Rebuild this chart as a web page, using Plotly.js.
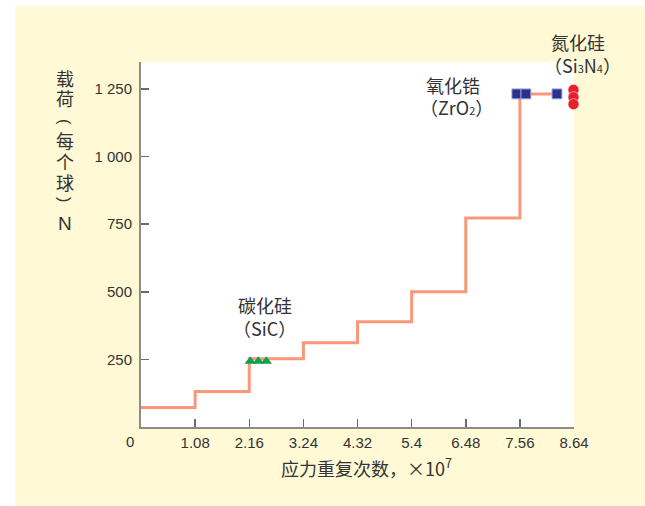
<!DOCTYPE html>
<html>
<head>
<meta charset="utf-8">
<script src="https://cdn.plot.ly/plotly-3.0.1.min.js"></script>
<style>html,body{margin:0;padding:0;background:#fff;}#chart{width:645px;height:506px;}</style>
</head>
<body>
<div id="chart"></div>
<script>
// ---- data ----
var stepCycles = [0, 1.08, 2.16, 3.24, 4.32, 5.4, 6.48, 7.56, 8.3];
var stepLoad   = [72, 131, 252, 312, 389, 500, 773, 1232, 1232];

var sicCycles = [2.18, 2.34, 2.50];
var sicLoad   = [243, 243, 243];

var zro2Cycles = [7.5, 7.68, 8.3];
var zro2Load   = [1232, 1232, 1232];

var si3n4Cycles = [8.63, 8.63, 8.63];
var si3n4Load   = [1247, 1220, 1194];

var xTickVals = [1.08, 2.16, 3.24, 4.32, 5.4, 6.48, 7.56, 8.64];
var xTickText = ['1.08', '2.16', '3.24', '4.32', '5.4', '6.48', '7.56', '8.64'];
var yTickVals = [250, 500, 750, 1000, 1250];
var yTickText = ['250', '500', '750', '1 000', '1 250'];

var yTitleChars = ['载', '荷', '(', '每', '个', '球', ')', 'N'];
var xTitle = '应力重复次数，×10<sup>7</sup>';

// ---- layout helpers ----
var W = 645, H = 506, L = 141, R = 574, T = 62, B = 427;
function px(xp) { return (xp - L) / (R - L); }
function py(yp) { return (B - yp) / (B - T); }

var cjk = '"Noto Sans CJK SC", "Noto Sans", sans-serif';
var latin = '"Liberation Sans", Arial, sans-serif';
var textColor = '#333333';
var yellow = '#FFF9D6';

var traces = [
  {x: stepCycles, y: stepLoad, mode: 'lines', line: {shape: 'hv', color: '#F7987A', width: 3},
   hoverinfo: 'skip', cliponaxis: false},
  {x: zro2Cycles, y: zro2Load, mode: 'markers', cliponaxis: false,
   marker: {symbol: 'square', size: 10, color: '#2B2F8F', line: {color: '#A9B2E0', width: 1}}},
  {x: si3n4Cycles, y: si3n4Load, mode: 'markers', cliponaxis: false,
   marker: {symbol: 'circle', size: 11, color: '#E8202A', line: {color: '#ffffff', width: 0.5}}},
  {x: sicCycles, y: sicLoad, mode: 'markers', cliponaxis: false,
   marker: {symbol: 'triangle-up', size: 10, color: '#12A050', line: {width: 0}}}
];

var yTitleY = [78, 98, 122, 140, 161, 182, 199, 223];
var annotations = [];
yTitleChars.forEach(function (c, i) {
  var isParen = (c === '(' || c === ')');
  var isLatin = isParen || c === 'N';
  annotations.push({
    xref: 'paper', yref: 'paper', x: px(65), y: py(yTitleY[i]),
    text: c, showarrow: false, xanchor: 'center', yanchor: 'middle',
    textangle: isParen ? 90 : 0,
    font: {family: isLatin ? latin : cjk, size: isParen ? 16 : (c === 'N' ? 19 : 18), color: textColor}
  });
});
annotations.push(
  {xref: 'paper', yref: 'paper', x: px(130), y: py(441), text: '0', showarrow: false,
   xanchor: 'center', yanchor: 'middle', font: {family: latin, size: 15, color: textColor}},
  {xref: 'paper', yref: 'paper', x: px(366), y: py(467), text: xTitle, showarrow: false,
   xanchor: 'center', yanchor: 'middle', font: {family: cjk, size: 18, color: textColor}},
  {xref: 'paper', yref: 'paper', x: px(265), y: py(305), text: '碳化硅', showarrow: false,
   xanchor: 'center', yanchor: 'middle', font: {family: cjk, size: 18, color: textColor}},
  {xref: 'paper', yref: 'paper', x: px(264), y: py(328), text: '（SiC）', showarrow: false,
   xanchor: 'center', yanchor: 'middle', font: {family: cjk, size: 18, color: textColor}},
  {xref: 'paper', yref: 'paper', x: px(453), y: py(85), text: '氧化锆', showarrow: false,
   xanchor: 'center', yanchor: 'middle', font: {family: cjk, size: 18, color: textColor}},
  {xref: 'paper', yref: 'paper', x: px(456), y: py(107),
   text: '（ZrO<span style="font-size:11px">2</span>）', showarrow: false,
   xanchor: 'center', yanchor: 'middle', font: {family: cjk, size: 18, color: textColor}},
  {xref: 'paper', yref: 'paper', x: px(578), y: py(42), text: '氮化硅', showarrow: false,
   xanchor: 'center', yanchor: 'middle', font: {family: cjk, size: 18, color: textColor}},
  {xref: 'paper', yref: 'paper', x: px(582), y: py(65),
   text: '（Si<span style="font-size:11px">3</span>N<span style="font-size:11px">4</span>）', showarrow: false,
   xanchor: 'center', yanchor: 'middle', font: {family: cjk, size: 18, color: textColor}}
);

var layout = {
  width: W, height: H,
  margin: {l: L, r: W - R, t: T, b: H - B, pad: 0},
  paper_bgcolor: yellow, plot_bgcolor: '#ffffff',
  showlegend: false,
  xaxis: {
    range: [0, 8.64], tickvals: xTickVals, ticktext: xTickText,
    showgrid: false, zeroline: false, showline: true, linecolor: '#8c8c8c', linewidth: 2,
    ticks: 'inside', ticklen: 8, tickwidth: 1.5, tickcolor: '#6b6b6b',
    tickfont: {family: latin, size: 15, color: textColor}, ticklabelstandoff: 1, fixedrange: true
  },
  yaxis: {
    range: [0, 1350], tickvals: yTickVals, ticktext: yTickText,
    showgrid: false, zeroline: false, showline: true, linecolor: '#8c8c8c', linewidth: 2,
    ticks: 'inside', ticklen: 8, tickwidth: 1.5, tickcolor: '#6b6b6b',
    tickfont: {family: latin, size: 15, color: textColor}, ticklabelstandoff: 4, fixedrange: true
  },
  shapes: [
    {type: 'rect', xref: 'paper', yref: 'paper', x0: px(0), x1: px(15), y0: py(H), y1: py(0),
     fillcolor: '#ffffff', line: {width: 0}, layer: 'below'},
    {type: 'rect', xref: 'paper', yref: 'paper', x0: px(0), x1: px(W), y0: py(6), y1: py(0),
     fillcolor: '#ffffff', line: {width: 0}, layer: 'below'}
  ],
  annotations: annotations
};

Plotly.newPlot('chart', traces, layout, {displayModeBar: false, staticPlot: true});
</script>
</body>
</html>
